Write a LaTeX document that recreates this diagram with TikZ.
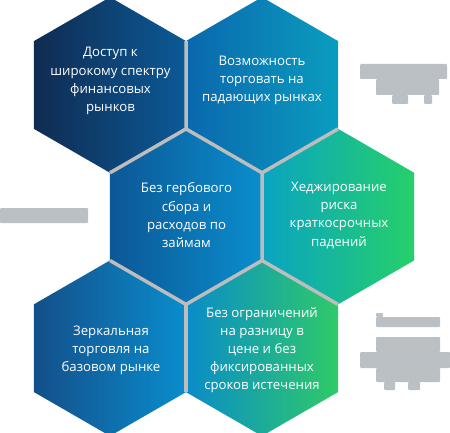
\documentclass[tikz,border=0pt]{standalone}
\usepackage{fontspec}
\setmainfont{Open Sans}
\usetikzlibrary{shapes.geometric}
\definecolor{gapgray}{HTML}{BDBDBD}
\definecolor{blobgray}{HTML}{BAC0C3}
\definecolor{hAl}{HTML}{102B52}\definecolor{hAr}{HTML}{0B5A97}
\definecolor{hBl}{HTML}{0A67AD}\definecolor{hBr}{HTML}{0A9DBF}
\definecolor{hCl}{HTML}{0C5796}\definecolor{hCr}{HTML}{0A8ECD}
\definecolor{hDl}{HTML}{0AA3C2}\definecolor{hDr}{HTML}{25D06A}
\definecolor{hEl}{HTML}{134F8A}\definecolor{hEr}{HTML}{0A8DCD}
\definecolor{hFl}{HTML}{0A8CC9}\definecolor{hFr}{HTML}{2FCA68}
\begin{document}
\begin{tikzpicture}[x=1pt,y=-1pt,
  hexcell/.style={regular polygon, regular polygon sides=6, shape border rotate=30,
    minimum size=175.6pt, inner sep=0pt, outer sep=0pt, draw=none},
  gapline/.style={draw=gapgray, line width=3.5pt, line join=round},
  hextext/.style={text=white, align=center, inner sep=0pt,
    font=\fontsize{13.2}{18.2}\selectfont},
  blob/.style={fill=blobgray, rounded corners=1pt}]
\useasboundingbox (0,0) rectangle (450,433);
\fill[white] (0,0) rectangle (450,433);
\begin{scope}
\clip (0,0) rectangle (450,433);
\node[hexcell, left color=hAl, right color=hAr] (h1) at (110,85) {};
\node[hexcell, left color=hBl, right color=hBr] (h2) at (262,85) {};
\node[hexcell, left color=hCl, right color=hCr] (h3) at (186,216.6) {};
\node[hexcell, left color=hDl, right color=hDr] (h4) at (338,216.6) {};
\node[hexcell, left color=hEl, right color=hEr] (h5) at (110,348.2) {};
\node[hexcell, left color=hFl, right color=hFr] (h6) at (262,348.2) {};
\draw[gapline] (h1.30) -- (h1.-30) -- (h1.-90);
\draw[gapline] (h2.-150) -- (h2.-90) -- (h2.-30);
\draw[gapline] (h3.30) -- (h3.-30) -- (h3.-90) -- (h3.-150);
\draw[gapline] (h4.-150) -- (h4.-90);
\draw[gapline] (h5.30) -- (h5.-30);
\node[hextext] (t1) at (110.5,81) {Доступ к\\широкому спектру\\финансовых\\рынков};
\node[hextext] (t2) at (262,80.5) {Возможность\\торговать на\\падающих рынках};
\node[hextext] (t3) at (186.5,215.3) {Без гербового\\сбора и\\расходов по\\займам};
\node[hextext] (t4) at (339,215.3) {Хеджирование\\риска\\краткосрочных\\падений};
\node[hextext] (t5) at (111,350.3) {Зеркальная\\торговля на\\базовом рынке};
\node[hextext] (t6) at (262,350) {Без ограничений\\на разницу в\\цене и без\\фиксированных\\сроков истечения};
\fill[blob] (360,64) rectangle (447,79);
\fill[blob] (376,79) rectangle (439,95);
\fill[blob] (392,95) rectangle (408,104);
\fill[blob] (424,95) rectangle (432,104);
\fill[blob] (0,208) rectangle (88,223);
\fill[blob] (376,313) rectangle (383,317);
\fill[blob] (376,317) rectangle (440,327);
\fill[blob] (376,337) rectangle (440,352);
\fill[blob] (360,352) rectangle (450,368);
\fill[blob] (376,368) rectangle (440,382);
\fill[blob] (384,382) rectangle (395,390);
\fill[blob] (408,382) rectangle (420,390);
\end{scope}
\end{tikzpicture}
\end{document}
